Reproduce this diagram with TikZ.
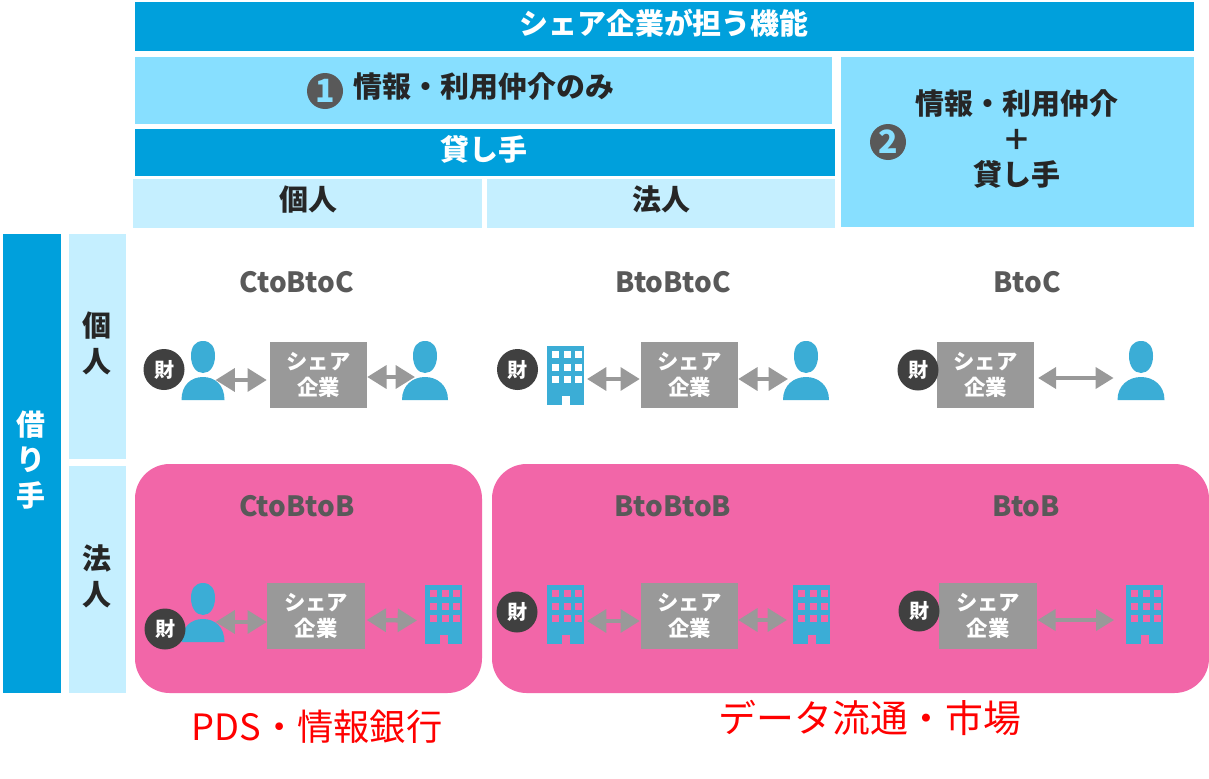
\documentclass[tikz,border=0pt]{standalone}
\usepackage{fontspec}
\setmainfont{Noto Sans CJK JP}
\usetikzlibrary{arrows.meta}
\definecolor{hdr}{HTML}{00A0DC}
\definecolor{mid}{HTML}{87DFFF}
\definecolor{lite}{HTML}{C5EFFF}
\definecolor{pinkbg}{HTML}{F266A8}
\definecolor{icon}{HTML}{3BADD6}
\definecolor{shr}{HTML}{999999}
\definecolor{ink}{HTML}{262626}
\definecolor{lab}{HTML}{595959}
\definecolor{disc}{HTML}{404040}
\newcommand{\fs}[2][1.0]{\fontsize{#2}{#1\dimexpr #2pt\relax}\selectfont}
\tikzset{
  x=0.75pt,y=-0.75pt,
  hdrtxt/.style={white,font=\fs{21.7}\bfseries,inner sep=0pt},
  inktxt/.style={ink,font=\fs{21.7}\bfseries,inner sep=0pt},
  vtxt/.style={align=center,inner sep=0pt,font=\fs{21.7}\bfseries},
  modeltxt/.style={lab,font=\fs{20.9}\bfseries,inner sep=0pt},
  sharebox/.style={fill=shr,inner sep=0pt,outer sep=0pt,minimum width=73pt,minimum height=49.5pt,
    text=white,align=center,font=\fs[1.18]{16}\bfseries},
  zai/.style={circle,fill=disc,text=white,inner sep=0pt,minimum size=30.75pt,font=\fs{15}\bfseries},
  numdisc/.style={circle,fill=lab,text=mid,inner sep=0pt,minimum size=27pt,font=\fs{24}\bfseries},
  bia/.style={draw=shr,line width=3.3pt,{Triangle[length=14.5pt,width=17pt]}-{Triangle[length=14.5pt,width=17pt]}},
  bithin/.style={draw=shr,line width=2.4pt,{Triangle[length=13.5pt,width=16pt]}-{Triangle[length=13.5pt,width=16pt]}},
  redtxt/.style={red,font=\fs{#1},inner sep=0pt},
  iconbox/.style={inner sep=0pt,outer sep=0pt,minimum width=#1*0.75pt,minimum height=44pt},
}
% \person{name}{centre x}{top y}{half width}
\newcommand{\person}[4]{%
  \node[iconbox=2*#4] (#1) at (#2,#3+29.5) {};
  \begin{scope}[shift={(#2,#3)}]
    \fill[icon] (0,0) .. controls (8,0) and (12,6) .. (12,15) .. controls (12,25) and (7,32) .. (0,32)
       .. controls (-7,32) and (-12,25) .. (-12,15) .. controls (-12,6) and (-8,0) .. (0,0) -- cycle;
    \fill[icon] (-#4,59) .. controls (-#4,44) and (-12,36) .. (0,36) .. controls (12,36) and (#4,44) .. (#4,59) -- cycle;
  \end{scope}}
% \building{name}{left x}{top y}{window colour}
\newcommand{\building}[4]{%
  \node[iconbox=37] (#1) at (#2+18.5,#3+29.5) {};
  \begin{scope}[shift={(#2,#3)}]
    \fill[icon] (0,0) rectangle (37,59);
    \foreach \wx in {5,16.5,28}{\foreach \wy in {5,17.5,30}{
      \fill[#4] (\wx,\wy) rectangle +(7,7);}}
    \fill[#4] (15,50) rectangle (22.5,59);
  \end{scope}}
\begin{document}
\begin{tikzpicture}
\useasboundingbox (0,0) rectangle (1209,778);
\fill[white] (0,0) rectangle (1209,778);
% header bands
\fill[hdr] (135,2) rectangle (1194,51);
\fill[mid] (135,57) rectangle (832,124);
\fill[mid] (841,57) rectangle (1194,227);
\fill[hdr] (135,129) rectangle (835,176);
\fill[lite] (133,179) rectangle (482,228);
\fill[lite] (487,179) rectangle (835,228);
\fill[hdr] (3,234) rectangle (61,693);
\fill[lite] (69,234) rectangle (126,459);
\fill[lite] (69,466) rectangle (126,693);
\fill[pinkbg,rounded corners=26pt] (135,464) rectangle (482,693);
\fill[pinkbg,rounded corners=26pt] (492,464) rectangle (1209,693);
\node[hdrtxt] (title) at (664,23) {シェア企業が担う機能};
\node[inktxt] (t1) at (484,87) {情報・利用仲介のみ};
\node[numdisc] (n1) at (325,91) {1};
\node[numdisc] (n2) at (888,142) {2};
\node[inktxt] (t2a) at (1017,104) {情報・利用仲介};
\node[inktxt] (t2b) at (1017,140) {＋};
\node[inktxt] (t2c) at (1017,174) {貸し手};
\node[hdrtxt] (lender) at (484,149) {貸し手};
\node[inktxt] (lc) at (308,200) {個人};
\node[inktxt] (lb) at (661,200) {法人};
\node[vtxt,white] (borrow) at (31,460) {借\\[5pt]り\\[5pt]手};
\node[vtxt,ink] (bc) at (97,343.5) {個\\[5pt]人};
\node[vtxt,ink] (bb) at (97,576.5) {法\\[5pt]人};
% model names
\node[modeltxt] (m1) at (297,282) {CtoBtoC};
\node[modeltxt] (m2) at (673,282) {BtoBtoC};
\node[modeltxt] (m3) at (1027,282) {BtoC};
\node[modeltxt] (m4) at (297,506) {CtoBtoB};
\node[modeltxt] (m5) at (673,506) {BtoBtoB};
\node[modeltxt] (m6) at (1026,506) {BtoB};
% share boxes
\node[sharebox] (s1) at (318.5,375) {シェア\\企業};
\node[sharebox] (s2) at (689.5,375) {シェア\\企業};
\node[sharebox] (s3) at (985.5,375) {シェア\\企業};
\node[sharebox] (s4) at (316,616) {シェア\\企業};
\node[sharebox] (s5) at (689.5,616) {シェア\\企業};
\node[sharebox] (s6) at (988,616) {シェア\\企業};
% icons
\person{p1}{203}{341}{21.5}
\person{p2}{425}{341}{23}
\building{b1}{547}{346}{white}
\person{p3}{806}{341}{23}
\person{p4}{1141}{341}{23.5}
\person{p5}{203}{583}{21.5}
\building{b2}{425}{585}{pinkbg}
\building{b3}{547}{585}{pinkbg}
\building{b4}{793}{585}{pinkbg}
\building{b5}{1126}{585}{pinkbg}
% connectors
\draw[bia] ([shift={(-9,9.5)}]p1.east) -- ([shift={(-3,5)}]s1.west);
\draw[bia] ([shift={(0,2)}]s1.east) -- ([shift={(13,6.5)}]p2.west);
\draw[bia] ([shift={(3,3.5)}]b1.east) -- ([shift={(-1,4)}]s2.west);
\draw[bia] ([shift={(0,4)}]s2.east) -- ([shift={(5,8.5)}]p3.west);
\draw[bithin] ([shift={(4,3)}]s3.east) -- ([shift={(-4,7.5)}]p4.west);
\draw[bia] ([shift={(-9,9.5)}]p5.east) -- ([shift={(-0.5,6)}]s4.west);
\draw[bia] ([shift={(2,4)}]s4.east) -- ([shift={(-8,6)}]b2.west);
\draw[bia] ([shift={(3,6.5)}]b3.east) -- ([shift={(-1,5)}]s5.west);
\draw[bia] ([shift={(0,4)}]s5.east) -- ([shift={(-6,5.5)}]b4.west);
\draw[bithin] ([shift={(1,4)}]s6.east) -- ([shift={(-12,5.5)}]b5.west);
% goods discs
\node[zai] (z1) at (164,369.5) {財};
\node[zai] (z2) at (517.5,369.5) {財};
\node[zai] (z3) at (918,370) {財};
\node[zai] (z4) at (165,629) {財};
\node[zai] (z5) at (517,612) {財};
\node[zai] (z6) at (919,611) {財};
% red captions
\node[redtxt=27.2] (c1) at (317,727) {PDS・情報銀行};
\node[redtxt=28.4] (c2) at (870,718) {データ流通・市場};
\end{tikzpicture}
\end{document}
